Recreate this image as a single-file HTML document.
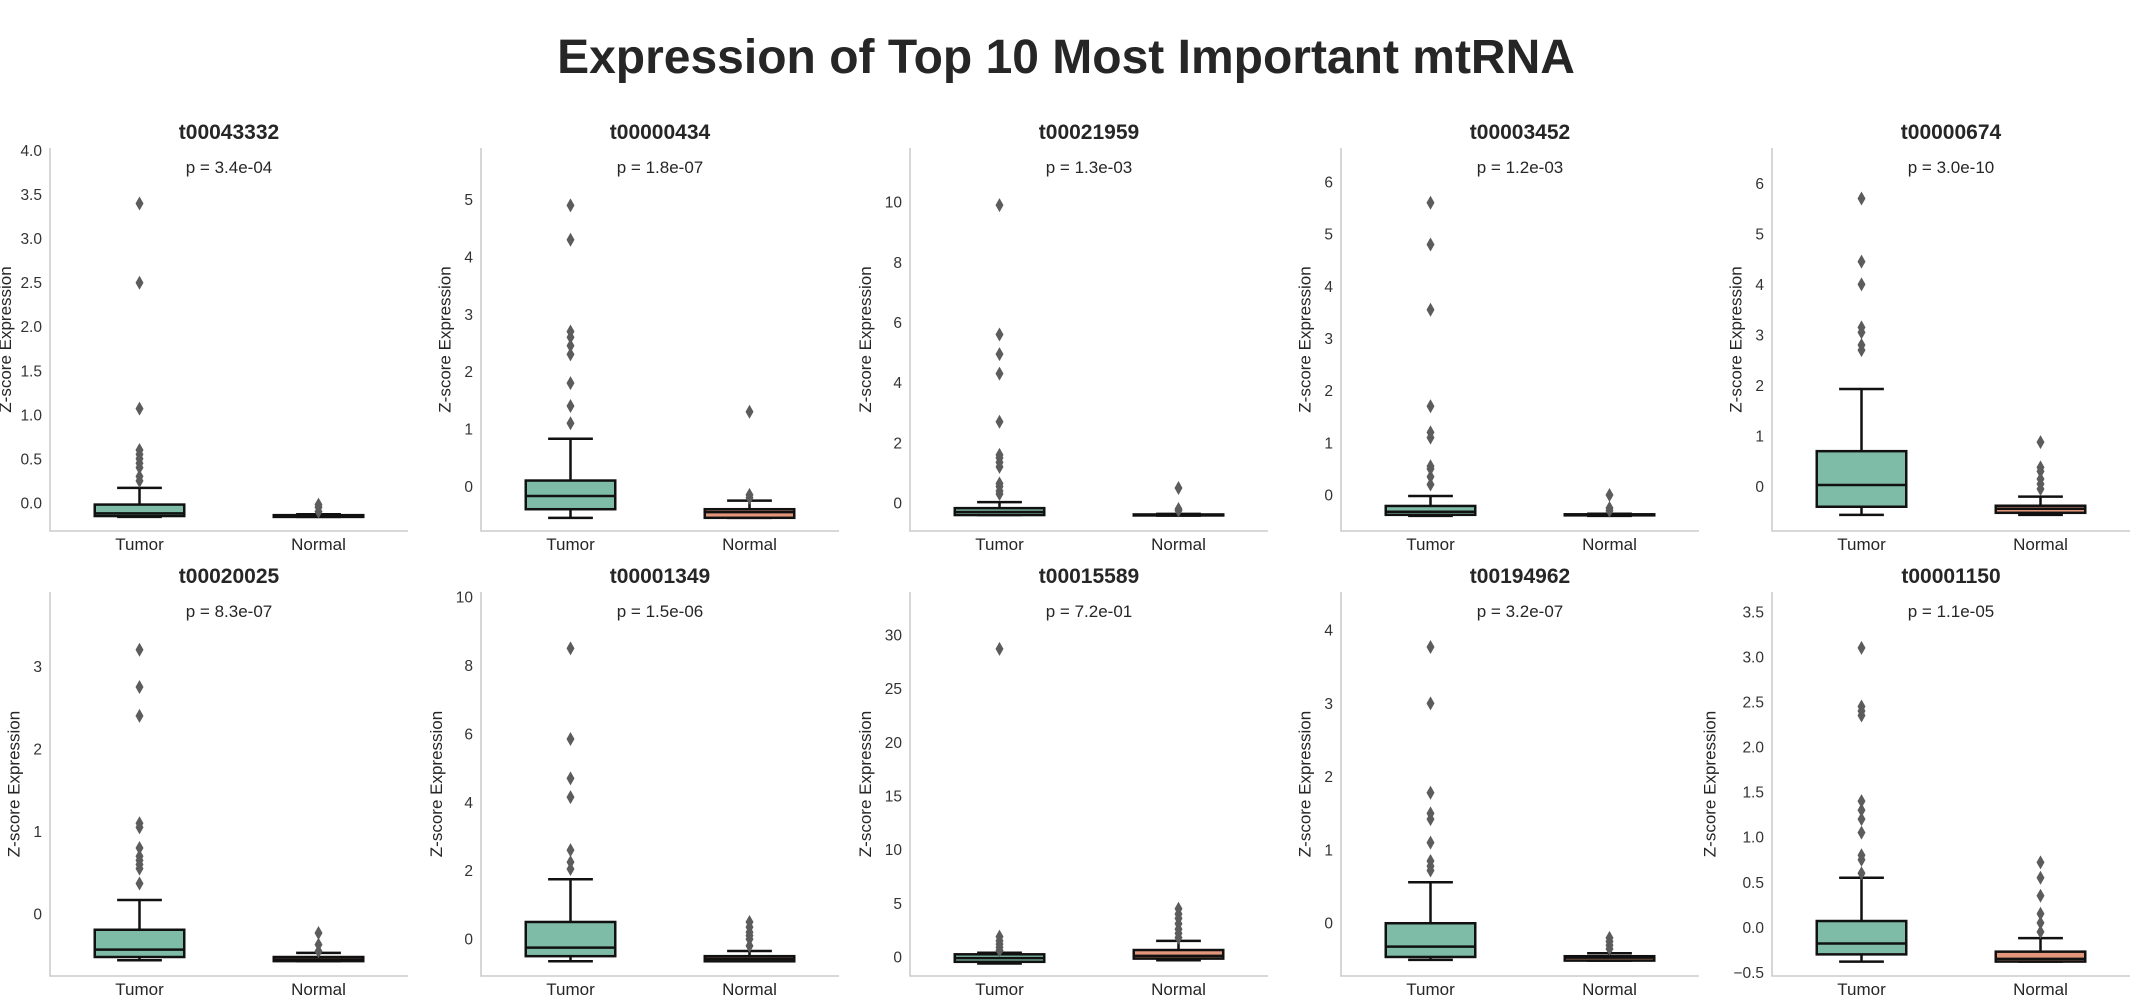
<!DOCTYPE html>
<html><head><meta charset="utf-8"><style>
html,body{margin:0;padding:0;background:#fff;}
svg{display:block;font-family:"Liberation Sans",Arial,sans-serif;}
</style></head><body>
<svg id="chart" width="2132" height="995" viewBox="0 0 2132 995" xmlns="http://www.w3.org/2000/svg">
<rect width="2132" height="995" fill="#fff"/>
<text x="1066" y="73" text-anchor="middle" font-size="48" font-weight="bold" fill="#262626">Expression of Top 10 Most Important mtRNA</text>
</svg>
<script>
const genes = ["t00043332","t00000434","t00021959","t00003452","t00000674","t00020025","t00001349","t00015589","t00194962","t00001150"];
const pvalues = ["3.4e-04","1.8e-07","1.3e-03","1.2e-03","3.0e-10","8.3e-07","1.5e-06","7.2e-01","3.2e-07","1.1e-05"];
const groups = ["Tumor","Normal"];
// box stats: [whiskerLow, q1, median, q3, whiskerHigh]
const tumorStats = [
 [-0.16,-0.15,-0.12,-0.02,0.17],
 [-0.55,-0.4,-0.17,0.1,0.83],
 [-0.4,-0.4,-0.3,-0.17,0.03],
 [-0.4,-0.38,-0.32,-0.21,-0.02],
 [-0.56,-0.4,0.03,0.7,1.93],
 [-0.56,-0.52,-0.43,-0.19,0.17],
 [-0.65,-0.5,-0.25,0.5,1.75],
 [-0.6,-0.45,-0.1,0.25,0.4],
 [-0.5,-0.46,-0.32,0.0,0.56],
 [-0.38,-0.3,-0.18,0.07,0.55]
];
const normalStats = [
 [-0.16,-0.16,-0.15,-0.14,-0.13],
 [-0.55,-0.55,-0.45,-0.4,-0.25],
 [-0.42,-0.41,-0.4,-0.38,-0.36],
 [-0.4,-0.39,-0.38,-0.37,-0.36],
 [-0.56,-0.52,-0.44,-0.38,-0.2],
 [-0.57,-0.57,-0.55,-0.52,-0.47],
 [-0.65,-0.65,-0.58,-0.5,-0.35],
 [-0.3,-0.15,0.1,0.65,1.5],
 [-0.51,-0.51,-0.47,-0.45,-0.41],
 [-0.38,-0.38,-0.35,-0.27,-0.12]
];
const tumorOutliers = [
 [0.25,0.3,0.4,0.45,0.5,0.55,0.6,1.07,2.5,3.4],
 [1.1,1.4,1.8,2.3,2.45,2.6,2.7,4.3,4.9],
 [0.3,0.4,0.55,0.65,1.2,1.35,1.5,1.6,2.7,4.3,4.95,5.6,9.9],
 [0.2,0.35,0.5,0.55,1.1,1.2,1.7,3.55,4.8,5.6],
 [2.7,2.8,3.05,3.15,4.0,4.45,5.7],
 [0.37,0.55,0.6,0.65,0.7,0.8,1.05,1.1,2.4,2.75,3.2],
 [2.05,2.25,2.6,4.15,4.7,5.85,8.5],
 [0.6,0.9,1.2,1.5,1.9,28.7],
 [0.72,0.78,0.85,1.1,1.42,1.5,1.78,3.0,3.77],
 [0.6,0.75,0.8,1.05,1.2,1.3,1.4,2.35,2.4,2.45,3.1]
];
const normalOutliers = [
 [-0.1,-0.05,-0.02],
 [-0.2,-0.15,1.3],
 [-0.25,-0.2,0.5],
 [-0.3,-0.25,0.0],
 [-0.05,0.05,0.15,0.3,0.38,0.88],
 [-0.45,-0.37,-0.23],
 [-0.2,0.0,0.1,0.2,0.35,0.5],
 [1.8,2.2,2.6,3.1,3.6,4.0,4.5],
 [-0.35,-0.3,-0.25,-0.2],
 [-0.05,0.05,0.15,0.35,0.55,0.72]
];
const yMin = [-0.32,-0.78,-0.93,-0.69,-0.88,-0.75,-1.08,-1.77,-0.72,-0.54];
const yMax = [4.03,5.9,11.8,6.65,6.7,3.9,10.15,34.0,4.52,3.72];
const tickLabels = [
 ["0.0","0.5","1.0","1.5","2.0","2.5","3.0","3.5","4.0"],
 ["0","1","2","3","4","5"],
 ["0","2","4","6","8","10"],
 ["0","1","2","3","4","5","6"],
 ["0","1","2","3","4","5","6"],
 ["0","1","2","3"],
 ["0","2","4","6","8","10"],
 ["0","5","10","15","20","25","30"],
 ["0","1","2","3","4"],
 ["\u22120.5","0.0","0.5","1.0","1.5","2.0","2.5","3.0","3.5"]
];
const tickValues = [
 [0,0.5,1,1.5,2,2.5,3,3.5,4],[0,1,2,3,4,5],[0,2,4,6,8,10],[0,1,2,3,4,5,6],[0,1,2,3,4,5,6],
 [0,1,2,3],[0,2,4,6,8,10],[0,5,10,15,20,25,30],[0,1,2,3,4],[-0.5,0,0.5,1,1.5,2,2.5,3,3.5]
];

const NS = "http://www.w3.org/2000/svg";
const svg = document.getElementById("chart");
const lefts = [50,481,910,1341,1772];
const W = 358;
const tops = [148,592], bottoms = [531,976];
const colors = ["#7fbca8","#e3967b"];
function mk(tag, attrs, parent){
  const e = document.createElementNS(NS, tag);
  for (const k in attrs) e.setAttribute(k, attrs[k]);
  (parent||svg).appendChild(e);
  return e;
}
genes.forEach((g, i) => {
  const row = Math.floor(i/5), col = i%5;
  const L = lefts[col], T = tops[row], B = bottoms[row];
  const grp = mk("g", {});
  
  
  const y = v => B - (v - yMin[i]) / (yMax[i] - yMin[i]) * (B - T);
  const x = k => L + W * (0.25 + 0.5*k);
  const ax = mk("path", {d:`M${L} ${T}V${B}H${L+W}`, stroke:"#cccccc", "stroke-width":"1.6", fill:"none"}, grp);
  
  
  const tt = mk("text", {x:L+W/2, y:T-9, "text-anchor":"middle", "font-size":"21", "font-weight":"bold", fill:"#262626"}, grp);
  tt.textContent = g;
  
  
  const pt = mk("text", {x:L+W/2, y:T+25, "text-anchor":"middle", "font-size":"17", fill:"#262626"}, grp);
  pt.textContent = "p = " + pvalues[i];
  
  
  let maxLen = 0;
  tickValues[i].forEach((tv, j) => {
    const t = mk("text", {x:L-8, y:y(tv)+5.5, "text-anchor":"end", "font-size":"15.5", fill:"#333"}, grp);
    t.textContent = tickLabels[i][j];
    
    
    maxLen = Math.max(maxLen, tickLabels[i][j].length);
  });
  const lx = Math.max(11, L - 8 - maxLen*8.6 - 14);
  const yl = mk("text", {x:lx, y:(T+B)/2, "text-anchor":"middle", "font-size":"17", fill:"#262626", transform:`rotate(-90 ${lx} ${(T+B)/2})`}, grp);
  yl.textContent = "Z-score Expression";
  
  
  [tumorStats[i], normalStats[i]].forEach((s, k) => {
    const cx = x(k), hw = W*0.125, cw = hw/2;
    const bg = mk("g", {}, grp);
    
    
    mk("line", {x1:cx, x2:cx, y1:y(s[0]), y2:y(s[1]), stroke:"#111", "stroke-width":"2.5"}, bg);
    mk("line", {x1:cx, x2:cx, y1:y(s[3]), y2:y(s[4]), stroke:"#111", "stroke-width":"2.5"}, bg);
    mk("line", {x1:cx-cw, x2:cx+cw, y1:y(s[0]), y2:y(s[0]), stroke:"#111", "stroke-width":"2.5"}, bg);
    mk("line", {x1:cx-cw, x2:cx+cw, y1:y(s[4]), y2:y(s[4]), stroke:"#111", "stroke-width":"2.5"}, bg);
    const h = Math.max(y(s[1]) - y(s[3]), 1);
    mk("rect", {x:cx-hw, y:y(s[3]), width:hw*2, height:h, fill:colors[k], stroke:"#111", "stroke-width":"2.5"}, bg);
    mk("line", {x1:cx-hw, x2:cx+hw, y1:y(s[2]), y2:y(s[2]), stroke:"#111", "stroke-width":"2.5"}, bg);
  });
  [tumorOutliers[i], normalOutliers[i]].forEach((arr, k) => {
    arr.forEach(v => {
      const cx = x(k), cy = y(v);
      const d = mk("path", {d:`M${cx} ${cy-7}L${cx+4} ${cy}L${cx} ${cy+7}L${cx-4} ${cy}Z`, fill:"#5c5c5c"}, grp);
      
      
    });
  });
  groups.forEach((gn, k) => {
    const t = mk("text", {x:x(k), y:B+19, "text-anchor":"middle", "font-size":"17", fill:"#262626"}, grp);
    t.textContent = gn;
    
    
  });
});
</script>
</body></html>
